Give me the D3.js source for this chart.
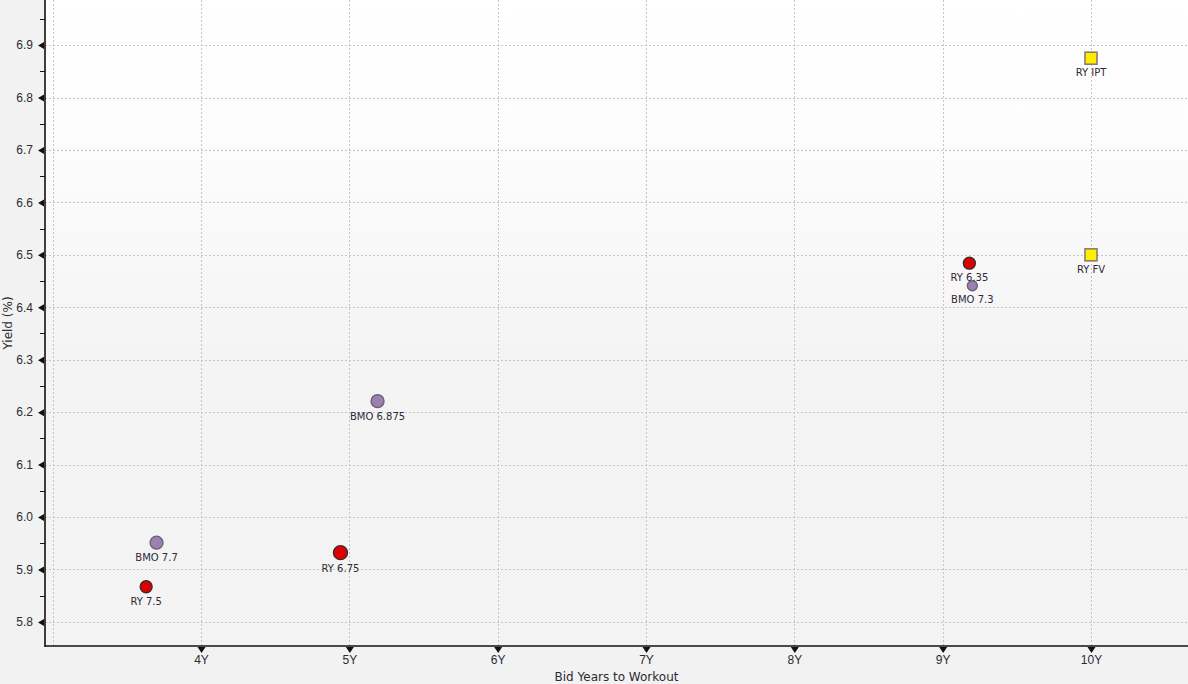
<!DOCTYPE html>
<html>
<head>
<meta charset="utf-8">
<script src="https://cdn.jsdelivr.net/npm/d3@7"></script>
<style>
  body { margin: 0; background: #f2f2f2; }
  svg { display: block; font-family: "DejaVu Sans", Verdana, sans-serif; }
  .axisText { font-size: 12px; fill: #2b2b33; }
  .ptLabel { font-size: 10px; fill: #2e2a36; }
</style>
</head>
<body>
<div id="body"></div>
<script>
// bonds: label, years to workout, yield
var labels = ["RY 7.5", "BMO 7.7", "RY 6.75", "BMO 6.875", "RY 6.35", "BMO 7.3", "RY IPT", "RY FV"];
var years  = [3.63, 3.70, 4.94, 5.19, 9.18, 9.20, 10.0, 10.0];
var yields = [5.867, 5.951, 5.932, 6.221, 6.484, 6.441, 6.875, 6.50];
var issuer = ["RY", "BMO", "RY", "BMO", "RY", "BMO", "IPT", "IPT"];

var xTicks = [4, 5, 6, 7, 8, 9, 10];
var xGrid = [3, 4, 5, 6, 7, 8, 9, 10];
var yTicks = [5.8, 5.9, 6.0, 6.1, 6.2, 6.3, 6.4, 6.5, 6.6, 6.7, 6.8, 6.9];

// marker look
var markerR = {"RY 7.5": 6, "BMO 7.7": 6.5, "RY 6.75": 7, "BMO 6.875": 6.5, "RY 6.35": 6, "BMO 7.3": 5};
var fills = {RY: "#dd0000", BMO: "#9c80b0", IPT: "#ffee00"};
var strokes = {RY: "#3a2a2a", BMO: "#666070", IPT: "#8c7c70"};

var data = labels.map(function(d, i) {
  return {label: d, years: years[i], yield: yields[i], issuer: issuer[i]};
});

var margin = {top: 0, right: 0, bottom: 38, left: 45},
  width = 1188 - margin.left - margin.right,
  height = 684 - margin.top - margin.bottom;

var svg = d3.select("#body")
  .append("svg")
  .attr("width", width + margin.left + margin.right)
  .attr("height", height + margin.top + margin.bottom);

var defs = svg.append("defs");
var grad = defs.append("linearGradient")
  .attr("id", "bg").attr("x1", 0).attr("y1", 0).attr("x2", 0).attr("y2", 1);
grad.append("stop").attr("offset", "0%").attr("stop-color", "#ffffff");
grad.append("stop").attr("offset", "20%").attr("stop-color", "#fdfdfd");
grad.append("stop").attr("offset", "55%").attr("stop-color", "#f4f4f4");
grad.append("stop").attr("offset", "100%").attr("stop-color", "#f3f3f3");

var chart = svg.append("g")
  .attr("transform", "translate(" + margin.left + "," + margin.top + ")");

chart.append("rect")
  .attr("width", width)
  .attr("height", height)
  .attr("fill", "url(#bg)");

var xLinearScale = d3.scaleLinear()
  .domain([2.948, 10.654])
  .range([0, width]);

var yLinearScale = d3.scaleLinear()
  .domain([5.754, 6.986])
  .range([height, 0]);

// grid
chart.append("g").selectAll("line")
  .data(xGrid)
  .enter().append("line")
  .attr("x1", function(d) { return Math.round(xLinearScale(d)) + 0.5; })
  .attr("x2", function(d) { return Math.round(xLinearScale(d)) + 0.5; })
  .attr("y1", 0).attr("y2", height)
  .attr("stroke", "#c4c4c4")
  .attr("stroke-dasharray", "2,2");

chart.append("g").selectAll("line")
  .data(yTicks)
  .enter().append("line")
  .attr("y1", function(d) { return Math.round(yLinearScale(d)) + 0.5; })
  .attr("y2", function(d) { return Math.round(yLinearScale(d)) + 0.5; })
  .attr("x1", 0).attr("x2", width)
  .attr("stroke", "#c4c4c4")
  .attr("stroke-dasharray", "2,2");

// axes
var bottomAxis = d3.axisBottom(xLinearScale)
  .tickValues(xTicks)
  .tickSize(0)
  .tickPadding(9)
  .tickFormat(function(d) { return d + "Y"; });

var leftAxis = d3.axisLeft(yLinearScale)
  .tickValues(yTicks)
  .tickSize(0)
  .tickPadding(12)
  .tickFormat(d3.format(".1f"));

var gx = chart.append("g")
  .attr("transform", `translate(0, ${height})`)
  .call(bottomAxis);
gx.select(".domain").remove();
gx.selectAll("text").attr("class", "axisText").attr("fill", null);
gx.selectAll(".tick").append("path")
  .attr("d", "M-4,1L4,1L0,7Z")
  .attr("fill", "#111");

var gy = chart.append("g")
  .call(leftAxis);
gy.select(".domain").remove();
gy.selectAll("text").attr("class", "axisText").attr("fill", null);
gy.selectAll(".tick").append("path")
  .attr("d", "M-1,-3.5L-1,3.5L-7,0Z")
  .attr("fill", "#111");

// minor y ticks
var minor = d3.range(yTicks.length - 1).map(function(i) { return (yTicks[i] + yTicks[i + 1]) / 2; });
minor.push(yTicks[yTicks.length - 1] + 0.05);
chart.append("g").selectAll("line")
  .data(minor)
  .enter().append("line")
  .attr("y1", function(d) { return Math.round(yLinearScale(d)) + 0.5; })
  .attr("y2", function(d) { return Math.round(yLinearScale(d)) + 0.5; })
  .attr("x1", -5).attr("x2", 0)
  .attr("stroke", "#111");

chart.append("line")
  .attr("x1", 0).attr("x2", 0).attr("y1", 0).attr("y2", height + 1)
  .attr("stroke", "#111").attr("stroke-width", 1.6);
chart.append("line")
  .attr("x1", 0).attr("x2", width).attr("y1", height).attr("y2", height)
  .attr("stroke", "#111").attr("stroke-width", 1.6);

// points
var circ = data.filter(function(d) { return d.issuer != "IPT"; });
var sq = data.filter(function(d) { return d.issuer == "IPT"; });

chart.selectAll("circle.pt")
  .data(circ)
  .enter().append("circle")
  .attr("class", "pt")
  .attr("cx", function(d) { return xLinearScale(d.years); })
  .attr("cy", function(d) { return yLinearScale(d.yield); })
  .attr("r", function(d) { return markerR[d.label]; })
  .attr("fill", function(d) { return fills[d.issuer]; })
  .attr("stroke", function(d) { return strokes[d.issuer]; })
  .attr("stroke-width", 1.3);

chart.selectAll("rect.pt")
  .data(sq)
  .enter().append("rect")
  .attr("class", "pt")
  .attr("x", function(d) { return xLinearScale(d.years) - 6; })
  .attr("y", function(d) { return yLinearScale(d.yield) - 6; })
  .attr("width", 12).attr("height", 12)
  .attr("fill", fills.IPT)
  .attr("stroke", strokes.IPT)
  .attr("stroke-width", 1.6);

chart.selectAll("text.ptLabel")
  .data(data)
  .enter().append("text")
  .attr("class", "ptLabel")
  .attr("text-anchor", "middle")
  .attr("x", function(d) { return xLinearScale(d.years); })
  .attr("y", function(d) { return yLinearScale(d.yield) + (markerR[d.label] || 6) + 12; })
  .text(function(d) { return d.label; });

// axis titles
svg.append("text")
  .attr("transform", "rotate(-90)")
  .attr("x", 0 - (height / 2))
  .attr("y", 12)
  .attr("text-anchor", "middle")
  .attr("class", "axisText")
  .text("Yield (%)");

svg.append("text")
  .attr("x", margin.left + width / 2)
  .attr("y", 681)
  .attr("text-anchor", "middle")
  .attr("class", "axisText")
  .text("Bid Years to Workout");
</script>
</body>
</html>
